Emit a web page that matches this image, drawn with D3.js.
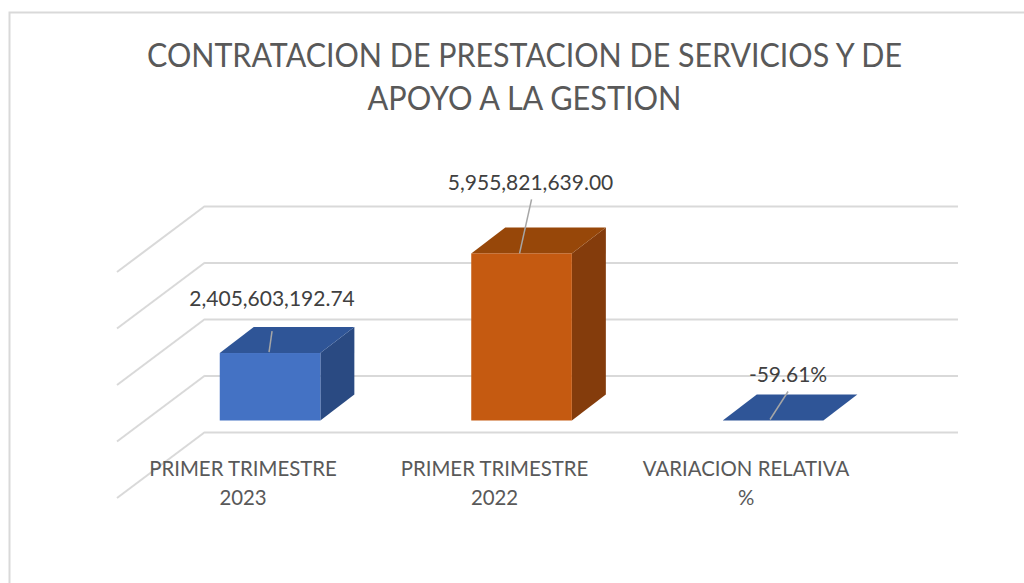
<!DOCTYPE html>
<html>
<head>
<meta charset="utf-8">
<script src="https://cdn.jsdelivr.net/npm/d3@7"></script>
<style>
  html, body { margin: 0; padding: 0; background: #fff; overflow: hidden; }
  text { font-family: "Lato", "Open Sans", sans-serif; }
</style>
</head>
<body>
<div id="chart"></div>
<script>
var svgWidth = 1024;
var svgHeight = 583;

// Data
var categories = ["PRIMER TRIMESTRE 2023", "PRIMER TRIMESTRE 2022", "VARIACION RELATIVA %"];
var categoryLines = [["PRIMER TRIMESTRE", "2023"], ["PRIMER TRIMESTRE", "2022"], ["VARIACION RELATIVA", "%"]];
var values = [2405603192.74, 5955821639.00, -0.5961];
var valueLabels = ["2,405,603,192.74", "5,955,821,639.00", "-59.61%"];
var gridTicks = [0, 2000000000, 4000000000, 6000000000, 8000000000];
var titleLines = ["CONTRATACION DE PRESTACION DE SERVICIOS Y DE", "APOYO A LA GESTION"];

// Colours for each bar: front, top, side
var frontColors = ["#4472c4", "#c55a11", "#2f5597"];
var topColors = ["#2f5597", "#974709", "#2f5597"];
var sideColors = ["#2a4a82", "#843c0c", "#2a4a82"];

// Leader lines and labels, relative to the top centre of the front face
var leaderFrom = [[-1, -1], [-2, 0], [-3, -1]];
var leaderTo = [[2, -22], [10, -54], [15, -29]];
var labelOffset = [[2, -47], [9, -63], [15, -39]];

// Title is narrower than Lato sets it, so fit each line to the measured width
var titleWidths = [755, 314];

var depthX = 34, depthY = 26;    // bar depth
var wallX = 88, wallY = 66;      // side wall of the 3d box

var svg = d3.select("#chart")
    .append("svg")
    .attr("width", svgWidth)
    .attr("height", svgHeight);

// Outer frame, only top and left are inside the window
svg.append("path")
    .attr("d", "M9.5,583V12.5H1024")
    .attr("fill", "none")
    .attr("stroke", "#d9d9d9")
    .attr("stroke-width", 2);

// Scales
var xScale = d3.scaleBand()
    .domain(categories)
    .range([144.3, 898.8])
    .paddingInner(0.6)
    .paddingOuter(0.3);

var yScale = d3.scaleLinear()
    .domain([0, 8000000000])
    .range([420.5, 196.1]);

var gridScale = d3.scaleLinear()
    .domain([0, 8000000000])
    .range([432, 206]);

// Back wall gridlines
var gridAxis = d3.axisLeft(gridScale)
    .tickValues(gridTicks)
    .tickSize(-753)
    .tickFormat("");

var gridGroup = svg.append("g")
    .attr("transform", "translate(205,0)")
    .call(gridAxis);

gridGroup.select(".domain").remove();
gridGroup.selectAll(".tick line")
    .attr("stroke", "#d9d9d9")
    .attr("stroke-width", 2);

// Side wall lines
svg.selectAll(".wallLine")
    .data(gridTicks)
    .enter()
    .append("line")
    .attr("class", "wallLine")
    .attr("x1", 205)
    .attr("y1", d => gridScale(d))
    .attr("x2", 205 - wallX)
    .attr("y2", d => gridScale(d) + wallY)
    .attr("stroke", "#d9d9d9")
    .attr("stroke-width", 2);

// Category labels
var labelAxis = d3.axisBottom(xScale).tickSize(0);

var axisGroup = svg.append("g")
    .attr("transform", "translate(0,457)")
    .call(labelAxis);

axisGroup.select(".domain").remove();
axisGroup.selectAll(".tick text").each(function(d, i) {
    var label = d3.select(this)
        .text(null)
        .attr("x", -27)
        .attr("y", 0)
        .attr("dy", null)
        .attr("fill", "#595959")
        .attr("font-size", 20.4)
        .attr("font-family", "Lato, 'Open Sans', sans-serif")
        .attr("text-anchor", "middle");
    categoryLines[i].forEach(function(line, j) {
        label.append("tspan")
            .attr("x", -27)
            .attr("y", 19 + j * 29)
            .text(line);
    });
});

// Bars
var bars = svg.selectAll(".bar")
    .data(values)
    .enter()
    .append("g")
    .attr("class", "bar");

function barLeft(i) { return xScale(categories[i]); }
function barRight(i) { return barLeft(i) + xScale.bandwidth(); }
function barTop(d) { return yScale(Math.max(d, 0)); }

bars.append("path")
    .attr("fill", (d, i) => sideColors[i])
    .attr("d", (d, i) => d3.line()([
        [barRight(i), barTop(d)],
        [barRight(i) + depthX, barTop(d) - depthY],
        [barRight(i) + depthX, yScale(0) - depthY],
        [barRight(i), yScale(0)]
    ]));

bars.append("path")
    .attr("fill", (d, i) => topColors[i])
    .attr("d", (d, i) => d3.line()([
        [barLeft(i), barTop(d)],
        [barLeft(i) + depthX, barTop(d) - depthY],
        [barRight(i) + depthX, barTop(d) - depthY],
        [barRight(i), barTop(d)]
    ]));

bars.append("rect")
    .attr("fill", (d, i) => frontColors[i])
    .attr("x", (d, i) => barLeft(i))
    .attr("y", d => barTop(d))
    .attr("width", xScale.bandwidth())
    .attr("height", d => yScale(0) - barTop(d));

// Leader lines
bars.append("line")
    .attr("x1", (d, i) => barLeft(i) + xScale.bandwidth() / 2 + leaderFrom[i][0])
    .attr("y1", (d, i) => barTop(d) + leaderFrom[i][1])
    .attr("x2", (d, i) => barLeft(i) + xScale.bandwidth() / 2 + leaderTo[i][0])
    .attr("y2", (d, i) => barTop(d) + leaderTo[i][1])
    .attr("stroke", "#a6a6a6")
    .attr("stroke-width", 1.5);

// Value labels
bars.append("text")
    .attr("x", (d, i) => barLeft(i) + xScale.bandwidth() / 2 + labelOffset[i][0])
    .attr("y", (d, i) => barTop(d) + labelOffset[i][1])
    .attr("text-anchor", "middle")
    .attr("font-size", 21)
    .attr("fill", "#404040")
    .text((d, i) => valueLabels[i]);

// Title
svg.selectAll(".titleLine")
    .data(titleLines)
    .enter()
    .append("text")
    .attr("class", "titleLine")
    .attr("x", 524.5)
    .attr("y", (d, i) => 67 + i * 42.5)
    .attr("text-anchor", "middle")
    .attr("font-size", 32)
    .attr("textLength", (d, i) => titleWidths[i])
    .attr("lengthAdjust", "spacingAndGlyphs")
    .attr("fill", "#595959")
    .text(d => d);
</script>
</body>
</html>
